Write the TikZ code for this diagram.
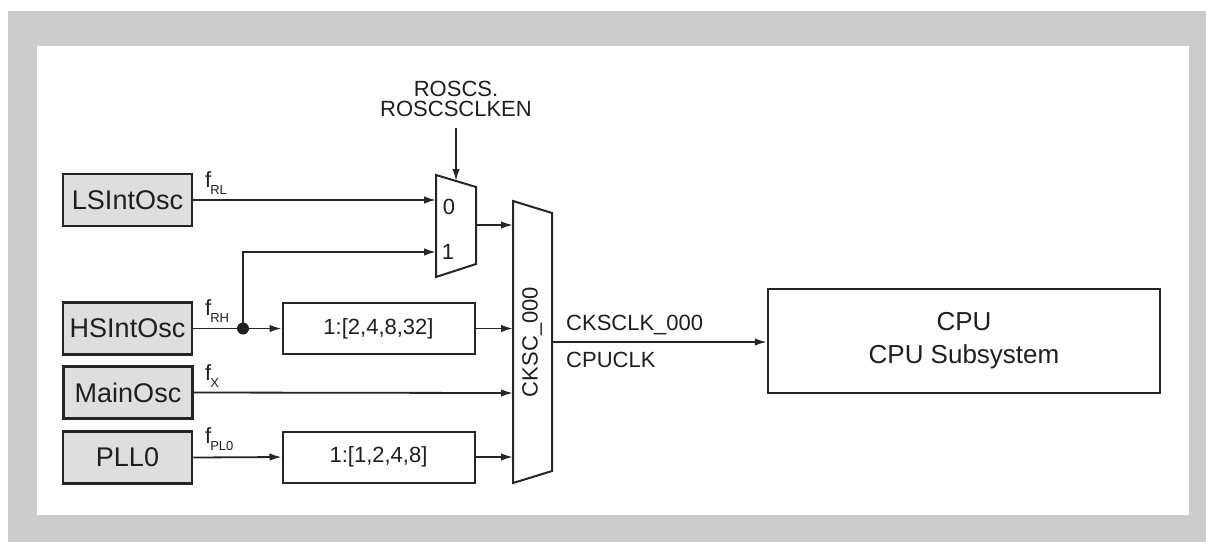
\documentclass[tikz,border=0pt]{standalone}
\usepackage{fontspec}
\setmainfont{Liberation Sans}
\usetikzlibrary{arrows.meta}
\newcommand{\fsz}{\fontsize{22}{33}\selectfont}
\newcommand{\fsub}[1]{f\kern-1pt\raisebox{-7pt}{\fontsize{13}{13}\selectfont #1}}
\begin{document}
\begin{tikzpicture}[x=1pt,y=-1pt,
  txt/.style={text=black!88},
  osc/.style={draw=black!85, line width=2.5pt, fill=black!13, minimum width=129pt, minimum height=52pt, inner sep=0pt, font=\fontsize{27}{30}\selectfont, text=black!88},
  divbox/.style={draw=black!85, line width=2pt, minimum width=192pt, minimum height=51pt, inner sep=0pt, font=\fsz, text=black!88},
  cpubox/.style={draw=black!85, line width=2.5pt, minimum width=392pt, minimum height=104pt, inner sep=0pt, align=center, font=\fontsize{26}{33}\selectfont, text=black!88},
  muxshape/.style={draw=black!85, line width=2pt, line join=miter},
  wire/.style={draw=black!85, line width=1.8pt},
  arr/.style={wire, -{Latex[length=12pt,width=7.5pt]}},
  lbl/.style={inner sep=0pt, font=\fsz, text=black!88},
  flbl/.style={inner sep=0pt, anchor=base west, font=\fsz, text=black!88}
]
\useasboundingbox (0,0) rectangle (1206,542);
\fill[black!20] (8,11) rectangle (1206,542);
\fill[white] (37,46) rectangle (1189,515);

% oscillator boxes
\node[osc] (ls) at (127.5,200) {LSIntOsc};
\node[osc] (hs) at (127.5,328.5) {HSIntOsc};
\node[osc] (mo) at (128,392.5) {MainOsc};
\node[osc] (pll) at (127.5,457.5) {PLL0};

% dividers
\node[divbox] (d1) at (378.5,328.5) {1:[2,4,8,32]};
\node[divbox] (d2) at (378.5,457) {1:[1,2,4,8]};

% CPU
\node[cpubox] (cpu) at (964,341) {CPU\\CPU Subsystem};

% ROSCS mux
\draw[muxshape] (436,175) -- (476,187) -- (476,264) -- (436,277) -- cycle;
\coordinate (m0) at (436,200);
\coordinate (m1) at (436,252);
\coordinate (mtop) at (456,181);
\coordinate (mout) at (476,225);
\node[lbl] (l0) at (449,207) {0};
\node[lbl] (l1) at (448,252) {1};

% control label
\node[lbl, align=center, font=\fontsize{22}{20}\selectfont] (ctrl) at (456,99) {ROSCS.\\ROSCSCLKEN};
\coordinate (ctrlb) at (456,128);
\draw[arr] (ctrlb) -- (mtop);

% CKSC mux
\draw[muxshape] (513,201) -- (552,213) -- (552,471) -- (513,483) -- cycle;
\node[lbl, rotate=90] (cksc) at (532,342) {CKSC\_000};
\coordinate (c0) at (513,225);
\coordinate (c1) at (513,328.5);
\coordinate (c2) at (513,393);
\coordinate (c3) at (513,457);
\coordinate (cout) at (552,342);

% connectors
\draw[arr] (ls.east) -- (m0);
\draw[arr] (mout) -- (c0);
\node[circle, fill=black!88, inner sep=0pt, minimum size=12pt] (dot) at (243,328.5) {};
\draw[arr] (hs.east) -- (d1.west);
\draw[arr] (dot.center) |- (m1);
\draw[arr] (d1.east) -- (c1);
\draw[arr] (mo.east) -- (c2);
\draw[arr] (pll.east) -- (d2.west);
\draw[arr] (d2.east) -- (c3);
\draw[arr] (cout) -- (cpu.west |- cout);

% labels
\node[flbl] (frl) at (205,187) {\fsub{RL}};
\node[flbl] (frh) at (205,315) {\fsub{RH}};
\node[flbl] (fx) at (205,380) {\fsub{X}};
\node[flbl] (fpl) at (205,443) {\fsub{PL0}};
\node[flbl] (ck) at (566,330) {CKSCLK\_000};
\node[flbl] (cpuclk) at (566,367) {CPUCLK};
\end{tikzpicture}
\end{document}
